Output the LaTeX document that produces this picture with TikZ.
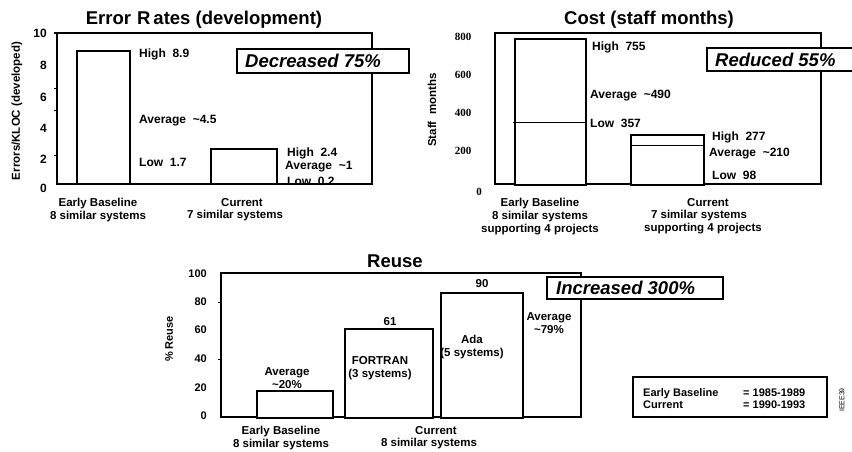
\documentclass[tikz,border=0pt]{standalone}
\usepackage{fontspec}
\setmainfont{Liberation Sans}
\newfontfamily\serifnum{Liberation Serif}
\begin{document}
\begin{tikzpicture}[x=1pt,y=-1pt,
  frame/.style={line width=1.4pt},
  bar/.style={draw,line width=1.4pt,fill=white},
  base/.style={line width=2.6pt},
  levelline/.style={line width=0.8pt},
  axtick/.style={line width=0.8pt},
  callout/.style={draw,line width=1.4pt,fill=white},
  calltext/.style={inner sep=0pt,anchor=west,font=\bfseries\itshape\fontsize{18.5}{19}\selectfont},
  title/.style={inner sep=0pt,font=\bfseries\fontsize{18.5}{19}\selectfont},
  lbl/.style={inner sep=0pt,anchor=west,font=\bfseries\fontsize{12}{13}\selectfont},
  clbl/.style={inner sep=0pt,align=center,font=\bfseries\fontsize{11.5}{13}\selectfont},
  tick/.style={inner sep=0pt,anchor=east,font=\bfseries\fontsize{12}{13}\selectfont},
  stick/.style={inner sep=0pt,font=\serifnum\bfseries\fontsize{11}{12}\selectfont},
  axlbl/.style={inner sep=0pt,rotate=90,font=\bfseries\fontsize{11.5}{12}\selectfont}]
\useasboundingbox[fill=white] (0,0) rectangle (852,451);

% ---------------- Error rates ----------------
\node[title] (t1) at (204,20) {Error\hspace{6pt}R\hspace{3pt}ates (development)};
\draw[frame] (57,33) rectangle (372,184);
\draw[frame] (54,33) -- (57,33);
\foreach \y in {88,110,155} \draw[axtick] (54,\y) -- (57,\y);
\node[axlbl] (y1) at (17,111) {Errors/KLOC (developed)};
\foreach \v/\y in {10/33,8/65,6/97,4/128,2/159,0/188}
  \node[tick] (e\v) at (47,\y) {\v};
\draw[bar] (77,51) rectangle (130,184);
\draw[base] (77,184) -- (130,184);
\draw[bar] (211,149) rectangle (277,184);
\draw[base] (211,184) -- (277,184);
\node[lbl] (eh1) at (139,54) {High\ \ 8.9};
\node[lbl] (ea1) at (139,121) {Average\ \ \textasciitilde4.5};
\node[lbl] (el1) at (139,162) {Low\ \ 1.7};
\node[lbl] (eh2) at (287,153) {High\ \ 2.4};
\node[lbl] (ea2) at (285,167) {Average\ \ \textasciitilde1};
\node[lbl] (el2) at (287,181) {Low\ \ 0.2};
\node[clbl] (ec1) at (98,210) {Early Baseline\\8 similar systems};
\node[clbl] (ec2a) at (242,203) {Current};
\node[clbl] (ec2b) at (235,216) {7 similar systems};
\draw[callout] (237,49) rectangle (409,73);
\node[calltext] (d1) at (245,61) {Decreased 75\%};

% ---------------- Cost ----------------
\node[title] (t2) at (649,20) {Cost (staff months)};
\draw[frame] (495,33) rectangle (821,184);
\node[axlbl] (y2) at (432,110) {Staff\ \ months};
\foreach \v/\y in {800/37,600/75,400/113,200/151}
  \node[stick] (c\v) at (463,\y) {\v};
\node[stick] (c0) at (479,192) {0};
\draw[bar] (515,39) rectangle (586,185);
\draw[levelline] (513,122) -- (586,122);
\draw[bar] (631,135) rectangle (704,185);
\draw[levelline] (631,145) -- (703,145);
\node[lbl] (ch1) at (592,47) {High\ \ 755};
\node[lbl] (ca1) at (590,96) {Average\ \ \textasciitilde490};
\node[lbl] (cl1) at (590,123) {Low\ \ 357};
\node[lbl] (ch2) at (712,137) {High\ \ 277};
\node[lbl] (ca2) at (709,154) {Average\ \ \textasciitilde210};
\node[lbl] (cl2) at (712,175) {Low\ \ 98};
\node[clbl] (cc1) at (540,217) {Early Baseline\\8 similar systems\\supporting 4 projects};
\node[clbl] (cc2a) at (708,203) {Current};
\node[clbl] (cc2b) at (699,216) {7 similar systems};
\node[clbl] (cc2c) at (703,229) {supporting 4 projects};
\draw[callout] (707,48) rectangle (860,71);
\node[calltext] (r1) at (715,60) {Reduced 55\%};

% ---------------- Reuse ----------------
\node[title] (t3) at (395,261) {Reuse};
\draw[frame] (221,273) rectangle (581,417);
\foreach \y in {302,359} \draw[axtick] (218,\y) -- (221,\y);
\node[axlbl,font=\bfseries\fontsize{11}{12}\selectfont] (y3) at (169,339) {\%\ Reuse};
\foreach \v/\y in {100/274,80/302,60/330,40/359,20/388,0/416}
  \node[tick,font=\bfseries\fontsize{11}{12}\selectfont] (u\v) at (207,\y) {\v};
\draw[bar] (257,391) rectangle (333,418);
\draw[base] (257,418) -- (333,418);
\draw[bar] (345,329) rectangle (433,418);
\draw[bar] (441,293) rectangle (523,418);
\node[clbl] (ua1) at (287,378) {Average\\\textasciitilde20\%};
\node[clbl] (u61) at (390,322) {61};
\node[clbl] (u90) at (482,284) {90};
\node[clbl] (uf) at (380,368) {FORTRAN\\(3 systems)};
\node[clbl] (uada) at (472,347) {Ada\\(5 systems)};
\node[clbl] (ua2) at (549,323) {Average\\\textasciitilde79\%};
\node[clbl] (uc1) at (281,438) {Early Baseline\\8 similar systems};
\node[clbl] (uc2a) at (436,431) {Current};
\node[clbl] (uc2b) at (429,444) {8 similar systems};
\draw[callout] (547,277) rectangle (723,299);
\node[calltext] (i1) at (556,288) {Increased 300\%};

% ---------------- Legend ----------------
\draw[frame] (633,377) rectangle (827,417);
\node[inner sep=0pt,anchor=west,align=left,font=\bfseries\fontsize{11}{12}\selectfont] (lg1) at (643,399) {Early Baseline\\Current};
\node[inner sep=0pt,anchor=west,align=left,font=\bfseries\fontsize{11}{12}\selectfont] (lg2) at (743,399) {= 1985-1989\\= 1990-1993};
\node[inner sep=0pt,rotate=90,font=\fontsize{7}{8}\selectfont] (id) at (842,400) {IEEE39};
\end{tikzpicture}
\end{document}
